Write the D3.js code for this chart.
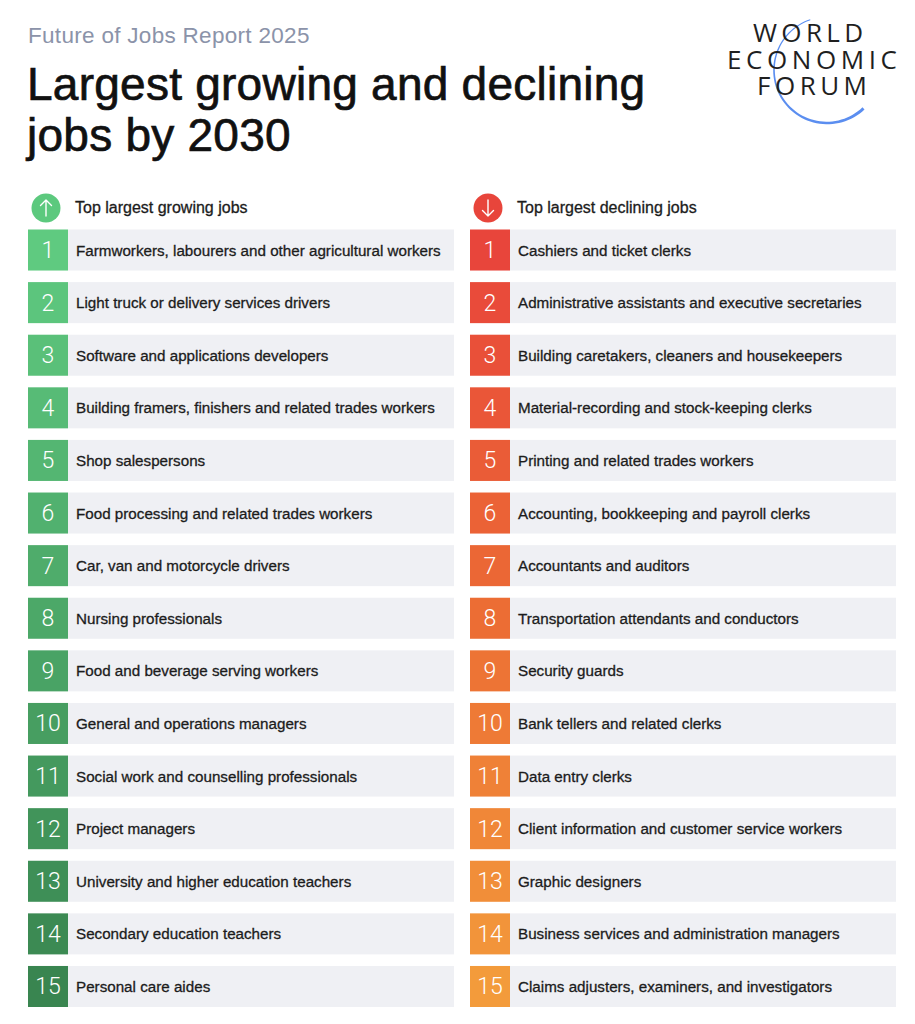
<!DOCTYPE html>
<html>
<head>
<meta charset="utf-8">
<script src="https://cdn.jsdelivr.net/npm/d3@7"></script>
<style>
  html, body { margin: 0; padding: 0; background: #fff; }
  svg { display: block; }
  .sans { font-family: "Liberation Sans", Arial, sans-serif; }
</style>
</head>
<body>
<svg id="chart" width="915" height="1024"></svg>
<script>
// ---- data ----
const ranks = d3.range(1, 16);

const growingJobs = [
  "Farmworkers, labourers and other agricultural workers",
  "Light truck or delivery services drivers",
  "Software and applications developers",
  "Building framers, finishers and related trades workers",
  "Shop salespersons",
  "Food processing and related trades workers",
  "Car, van and motorcycle drivers",
  "Nursing professionals",
  "Food and beverage serving workers",
  "General and operations managers",
  "Social work and counselling professionals",
  "Project managers",
  "University and higher education teachers",
  "Secondary education teachers",
  "Personal care aides"
];

const decliningJobs = [
  "Cashiers and ticket clerks",
  "Administrative assistants and executive secretaries",
  "Building caretakers, cleaners and housekeepers",
  "Material-recording and stock-keeping clerks",
  "Printing and related trades workers",
  "Accounting, bookkeeping and payroll clerks",
  "Accountants and auditors",
  "Transportation attendants and conductors",
  "Security guards",
  "Bank tellers and related clerks",
  "Data entry clerks",
  "Client information and customer service workers",
  "Graphic designers",
  "Business services and administration managers",
  "Claims adjusters, examiners, and investigators"
];

const logoWords = ["WORLD", "ECONOMIC", "FORUM"];

// ---- layout ----
const svg = d3.select("#chart");

const y = d3.scaleBand()
  .domain(ranks)
  .range([229.5, 1007])
  .paddingInner(0.22)
  .paddingOuter(0);

const columns = [
  {
    x0: 28, x1: 454, jobs: growingJobs,
    title: "Top largest growing jobs", up: true,
    color: d3.scaleLinear().domain([1, 15]).range(["#5fca80", "#398550"]).interpolate(d3.interpolateRgb),
    icon: "#5cc97e"
  },
  {
    x0: 470, x1: 896, jobs: decliningJobs,
    title: "Top largest declining jobs", up: false,
    color: d3.scaleLinear().domain([1, 8, 15]).range(["#e8453b", "#ec6d34", "#f39b3b"]).interpolate(d3.interpolateRgb),
    icon: "#e8453b"
  }
];

const numW = 40;

// ---- header ----
svg.append("text")
  .attr("class", "sans")
  .attr("x", 28).attr("y", 43)
  .attr("font-size", 22.5)
  .attr("letter-spacing", 0.3)
  .attr("fill", "#8b93a9")
  .text("Future of Jobs Report 2025");

const title = svg.append("g").attr("class", "sans")
  .attr("font-size", 46)
  .attr("fill", "#111")
  .attr("stroke", "#111")
  .attr("stroke-width", 0.7)
  .attr("letter-spacing", 0.25);
title.append("text").attr("x", 27).attr("y", 100).text("Largest growing and declining");
title.append("text").attr("x", 27).attr("y", 151).text("jobs by 2030");

// ---- logo ----
const logo = svg.append("g");
const arcC = { x: 827, y: 70, r: 53 };
const a0 = -223.5 * Math.PI / 180, a1 = -18.4 * Math.PI / 180;
const steps = d3.range(0, 61).map(i => a0 + (a1 - a0) * i / 60);
const widthAt = t => 3.0 - 2.1 * t; // thick at the bottom end, thin at the top
const outer = steps.map((a, i) => {
  const r = arcC.r + widthAt(i / 60) / 2;
  return [arcC.x + r * Math.sin(a), arcC.y - r * Math.cos(a)];
});
const inner = steps.map((a, i) => {
  const r = arcC.r - widthAt(i / 60) / 2;
  return [arcC.x + r * Math.sin(a), arcC.y - r * Math.cos(a)];
}).reverse();
logo.append("path")
  .attr("d", d3.line()(outer.concat(inner)) + "Z")
  .attr("fill", "#5b8ef0");

const logoLines = [
  { cx: 808, y: 42, w: 110 },
  { cx: 812, y: 69, w: 170 },
  { cx: 812, y: 95, w: 110 }
];
// one text element, one tspan per word
logo.append("text")
  .attr("font-family", "'Open Sans', sans-serif")
  .attr("font-size", 26)
  .attr("fill", "#1f1f1f")
  .selectAll("tspan")
  .data(logoWords)
  .join("tspan")
  .attr("x", (d, i) => logoLines[i].cx - logoLines[i].w / 2)
  .attr("y", (d, i) => logoLines[i].y)
  .attr("textLength", (d, i) => logoLines[i].w)
  .attr("lengthAdjust", "spacing")
  .text(d => d);

// ---- columns ----
columns.forEach(col => {
  const g = svg.append("g");

  // legend
  const cx = col.x0 + 18, cy = 208;
  g.append("circle").attr("cx", cx).attr("cy", cy).attr("r", 14.5).attr("fill", col.icon);
  const dir = col.up ? -1 : 1;
  g.append("path")
    .attr("d", `M${cx},${cy - 8 * dir}L${cx},${cy + 8 * dir}M${cx - 5.5},${cy + 2.5 * dir}L${cx},${cy + 8 * dir}L${cx + 5.5},${cy + 2.5 * dir}`)
    .attr("fill", "none").attr("stroke", "#fff").attr("stroke-width", 1.4)
    .attr("stroke-linecap", "round").attr("stroke-linejoin", "round");
  g.append("text")
    .attr("class", "sans")
    .attr("x", col.x0 + 47).attr("y", 213)
    .attr("font-size", 16)
    .attr("fill", "#1c1c1c")
    .attr("stroke", "#1c1c1c").attr("stroke-width", 0.3)
    .text(col.title);

  const rows = g.selectAll("g.row")
    .data(ranks)
    .join("g")
    .attr("class", "row")
    .attr("transform", d => `translate(0,${y(d)})`);

  rows.append("rect")
    .attr("x", col.x0 + numW).attr("y", 0)
    .attr("width", col.x1 - col.x0 - numW).attr("height", y.bandwidth())
    .attr("fill", "#eff0f4");

  rows.append("rect")
    .attr("x", col.x0).attr("y", 0)
    .attr("width", numW).attr("height", y.bandwidth())
    .attr("fill", d => col.color(d));

  rows.append("text")
    .attr("x", col.x0 + numW / 2).attr("y", y.bandwidth() / 2 + 8)
    .attr("text-anchor", "middle")
    .attr("font-family", "Roboto, 'Open Sans', sans-serif")
    .attr("font-weight", 300)
    .attr("font-size", 23)
    .attr("fill", "#fff")
    .text(d => d);

  rows.append("text")
    .attr("class", "sans")
    .attr("x", col.x0 + 48).attr("y", y.bandwidth() / 2 + 5.5)
    .attr("font-size", 15.2)
    .attr("fill", "#1c1c1c")
    .attr("stroke", "#1c1c1c").attr("stroke-width", 0.3)
    .text(d => col.jobs[d - 1]);
});
</script>
</body>
</html>
